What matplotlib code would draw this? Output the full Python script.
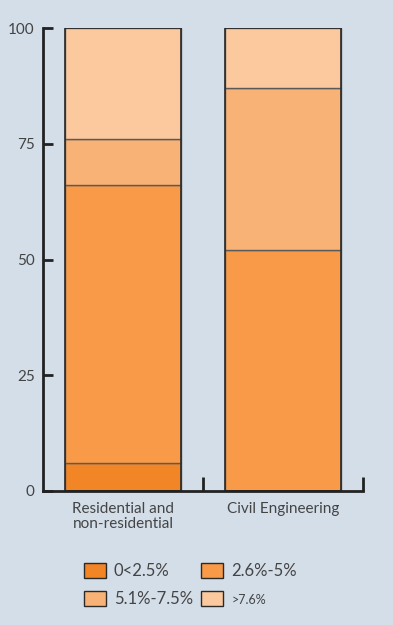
import numpy as np
import matplotlib.pyplot as plt

categories = ["Residential and\nnon-residential", "Civil Engineering"]
labels = ["0<2.5%", "2.6%-5%", "5.1%-7.5%", ">7.6%"]
vals = {
    "0<2.5%":    [6, 0],
    "2.6%-5%":   [60, 52],
    "5.1%-7.5%": [10, 35],
    ">7.6%":     [24, 13],
}
colors = ["#f28627", "#f89a48", "#f9b276", "#fcc99e"]
bg = "#d4dee9"

plt.rcParams['font.family'] = ['Lato', 'DejaVu Sans']

fig = plt.figure(figsize=(3.93, 6.25), dpi=100, facecolor=bg)
ax = fig.add_axes([43/393, 1-491/625, 320/393, 463/625], facecolor=bg)

x = np.arange(len(categories))
bottom = np.zeros(len(categories))
handles = []
for lab, c in zip(labels, colors):
    v = np.array(vals[lab], dtype=float)
    b = ax.bar(x, v, 0.72, bottom=bottom, color=c, edgecolor="#5a5a5a", linewidth=1.0)
    handles.append(b)
    bottom += v
# dark outline round each full bar
ax.bar(x, bottom, 0.72, fill=False, edgecolor="#2a2a2a", linewidth=1.2)

ax.set_xlim(-0.5, 1.5)
ax.set_ylim(0, 100)
ax.set_yticks([0, 25, 50, 75, 100])
ax.set_xticks(x)
ax.set_xticklabels(categories, fontsize=11, color="#444444", linespacing=1.1)
ax.set_xticks([0.5, 1.5], minor=True)
ax.tick_params(axis='x', which='major', length=0, pad=8)
ax.tick_params(axis='x', which='minor', direction='in', length=10, width=2, color="#222222")
ax.tick_params(axis='y', direction='in', length=7, width=2, color="#222222",
               labelsize=11, labelcolor="#444444", pad=6)
for s in ["top", "right"]:
    ax.spines[s].set_visible(False)
for s in ["left", "bottom"]:
    ax.spines[s].set_linewidth(2)
    ax.spines[s].set_color("#222222")

order = [0, 2, 1, 3]
leg = fig.legend([handles[i] for i in order], [labels[i] for i in order],
                 ncol=2, loc="upper left", bbox_to_anchor=(69/393, 1-548/625),
                 frameon=False, fontsize=12, handlelength=1.3, handleheight=1.0,
                 handletextpad=0.5, columnspacing=0.5, labelspacing=0.7)
for t in leg.get_texts():
    t.set_color("#444444")
leg.get_texts()[3].set_fontsize(9)
for h in leg.legend_handles:
    h.set_edgecolor("#2a2a2a")

fig.savefig("out.png", dpi=100, facecolor=bg)
